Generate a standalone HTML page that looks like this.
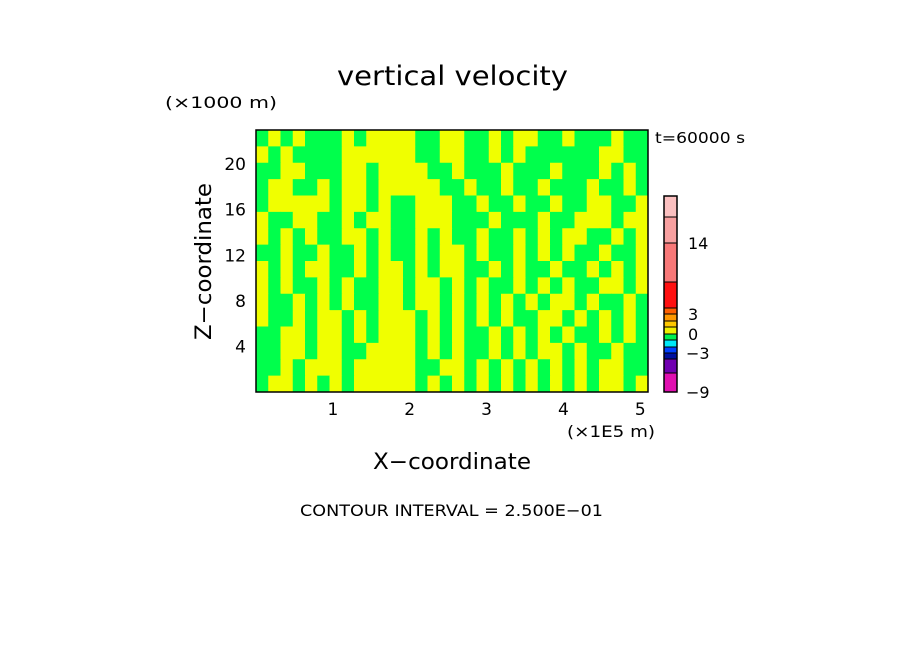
<!DOCTYPE html>
<html><head><meta charset="utf-8"><style>
html,body{margin:0;padding:0;background:#fff;}
svg text{font-family:"DejaVu Sans","Liberation Sans",sans-serif;fill:#000;}
</style></head><body>
<svg id="chart" width="904" height="654" xmlns="http://www.w3.org/2000/svg">
<text x="337" y="85" font-size="27" textLength="231" lengthAdjust="spacingAndGlyphs">vertical velocity</text>
<text x="165" y="108" font-size="16" textLength="112" lengthAdjust="spacingAndGlyphs">(×1000 m)</text>
<text x="655" y="143" font-size="15" textLength="90" lengthAdjust="spacingAndGlyphs">t=60000 s</text>
<g id="field"></g>
<rect x="256" y="130" width="392" height="262" fill="none" stroke="#000" stroke-width="1.5"/>
<g id="xticks"></g>
<g id="yticks"></g>
<text x="567" y="437" font-size="16" textLength="88" lengthAdjust="spacingAndGlyphs">(×1E5 m)</text>
<text x="373" y="469" font-size="22" textLength="158" lengthAdjust="spacingAndGlyphs">X−coordinate</text>
<text x="0" y="0" font-size="22" textLength="157" lengthAdjust="spacingAndGlyphs" transform="translate(211 340) rotate(-90)">Z−coordinate</text>
<g id="cbar"></g>
<text x="300" y="516" font-size="16" textLength="303" lengthAdjust="spacingAndGlyphs">CONTOUR INTERVAL = 2.500E−01</text>
</svg>
<script>
// field: G = green bin, Y = yellow bin; rows top to bottom
const fieldRows = [
"GYGYGGGYGYYYYGGYYGGYGYYGGYGGGYGG",
"YGYGGGGYYYYYYGGYYGGYGYGGGGGGYYGG",
"GGYYGGGYYGYYYYGGYGGGYGGGYGGGYGYG",
"GYYGGYGYYGYYYYYGGYGGYGGYGGGYGGYG",
"GYYYYYGYYGYGGYYYGGYGGYGGYGGYYGGY",
"YGGYYGGYGYYGGYYYGGGYGGGYGGYYYGYY",
"YGYGYGGYYGYGGYGYGGYGGYGYGYYGGYGY",
"GGYGGYGGYGYGGYGYYGYGGYGYGYGGYGGY",
"YGYGYYGGYGYYGYGYYGGYGYGGYGGYGYGY",
"YGYGGYGYGGYYGYYGYGYGGYGYGYGGYYGY",
"YGGYGYGYGGYYGYYGYGYGYGYGYYGYGGYG",
"YGGYGYYGYGYYYGYGYGYGYGGYYGYGYGYG",
"GGYYGYYGYGYYYGYGYGGYGYGYGYGGYGYG",
"GGYYGYYGGYYYYGYGYGGYGYGYYGYGGYGG",
"GGYGYYYGYYYYYGGYYGYGYGYGYGYGYYGG",
"GYYGYGYGYYYYYGYGYGYGYGYGYGYGYYGY"
];
const xTicks = [1,2,3,4,5];
const yTicks = [4,8,12,16,20];
const xMax = 5.1, zMax = 23;
// colorbar bin edges (bottom to top) and colours
const cbEdges = [-9,-7,-5,-3,-2,-1,0,1,2,3,4,7,14,17,20];
const cbColors = ["#e010b0","#7000b0","#0010a0","#0040ff","#00e8f8","#00f050","#f0f000","#ffc800","#ff9800","#ff6000","#ff1010","#f87878","#f8a0a0","#fbc0c0"];
const cbLabels = [-9,-3,0,3,14];

const NS="http://www.w3.org/2000/svg";
const PX0=256,PX1=648,PY0=130,PY1=392;
const xs=v=>PX0+v/xMax*(PX1-PX0);
const ys=v=>PY1-v/zMax*(PY1-PY0);
function mk(t,a,p){const e=document.createElementNS(NS,t);for(const k in a)e.setAttribute(k,a[k]);p.appendChild(e);return e;}
const field=document.getElementById('field');
const nr=fieldRows.length,nc=fieldRows[0].length;
const cw=(PX1-PX0)/nc,ch=(PY1-PY0)/nr;
fieldRows.forEach((row,r)=>{[...row].forEach((c,i)=>{
 const e=mk('rect',{x:PX0+i*cw,y:PY0+r*ch,width:cw+0.5,height:ch+0.5,fill:c==='G'?'#00ff4c':'#f0ff00'},field);
 
 
});});
const xg=document.getElementById('xticks');
xTicks.forEach(v=>{const t=mk('text',{x:xs(v),y:415,'font-size':17,'text-anchor':'middle'},xg);t.textContent=v;
 
 });
const yg=document.getElementById('yticks');
yTicks.forEach(v=>{const t=mk('text',{x:246,y:ys(v)+6,'font-size':17,'text-anchor':'end'},yg);t.textContent=v;
 
 });
// colorbar: each bin edge index maps to a pixel row
const cbPix=[392,373,359,353,347,340,334,327,321,314,308,282,243,217,196];
const cb=document.getElementById('cbar');
const cy=v=>{for(let i=0;i<cbEdges.length-1;i++){if(v<=cbEdges[i+1]){const f=(v-cbEdges[i])/(cbEdges[i+1]-cbEdges[i]);return cbPix[i]+f*(cbPix[i+1]-cbPix[i]);}}return 196;};
cbColors.forEach((c,i)=>{const y0=cy(cbEdges[i]),y1=cy(cbEdges[i+1]);
 const e=mk('rect',{x:664,y:y1,width:13,height:y0-y1,fill:c,stroke:'#000','stroke-width':1},cb);
 
 });
mk('rect',{x:664,y:196,width:13,height:196,fill:'none',stroke:'#000','stroke-width':1.5},cb);
cbLabels.forEach(v=>{const t=mk('text',{x:v<0?686:688,y:cy(v)+6,'font-size':16},cb);t.textContent=v<0?'−'+(-v):v;
 
 });
</script>
</body></html>
